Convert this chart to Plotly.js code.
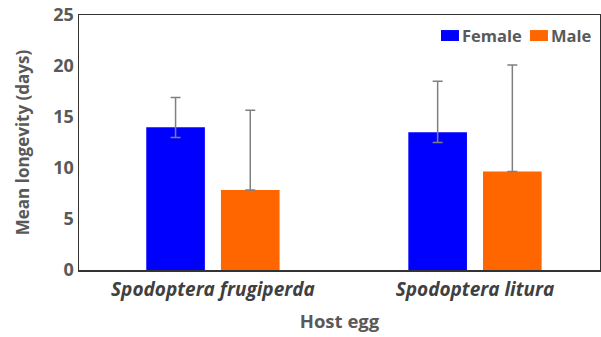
<!DOCTYPE html>
<html><head><meta charset="utf-8">
<script src="https://cdn.plot.ly/plotly-3.0.1.min.js"></script>
<style>html,body{margin:0;padding:0;background:#fff}#chart{width:601px;height:337px}</style>
</head><body><div id="chart"></div>
<script>
const categories = ["Spodoptera frugiperda", "Spodoptera litura"];
const categoryLabels = ["<i>Spodoptera frugiperda</i>", "<i>Spodoptera litura</i>"];
const seriesNames = ["Female", "Male"];
const seriesColors = ["#0000ff", "#ff6600"];
const femaleMean = [14.0, 13.5];
const femaleErrPlus = [2.9, 5.0];
const femaleErrMinus = [1.0, 1.0];
const maleMean = [7.85, 9.65];
const maleErrPlus = [7.8, 10.45];
const maleErrMinus = [0, 0];
const yTicks = [0, 5, 10, 15, 20, 25];

const FAM = '"Open Sans", sans-serif';
const errStyle = {type: 'data', symmetric: false, color: '#808080', thickness: 1.5, width: 5};
const traces = [
  {type: 'bar', name: seriesNames[0], x: categories, y: femaleMean,
   marker: {color: seriesColors[0]},
   error_y: Object.assign({}, errStyle, {array: femaleErrPlus, arrayminus: femaleErrMinus})},
  {type: 'bar', name: seriesNames[1], x: categories, y: maleMean,
   marker: {color: seriesColors[1]},
   error_y: Object.assign({}, errStyle, {array: maleErrPlus, arrayminus: maleErrMinus})}
];

// custom legend (box + label) in paper coordinates
const legendBoxX = [0.6948, 0.8656];
const legendTextX = [0.7313, 0.9021];
const shapes = seriesNames.map((n, i) => ({
  type: 'rect', xref: 'paper', yref: 'paper',
  x0: legendBoxX[i], x1: legendBoxX[i] + 0.0345, y0: 0.898, y1: 0.941,
  fillcolor: seriesColors[i], line: {width: 0}
}));
const annotations = seriesNames.map((n, i) => ({
  xref: 'paper', yref: 'paper', x: legendTextX[i], y: 0.92, xanchor: 'left', yanchor: 'middle',
  text: n, showarrow: false,
  font: {family: FAM, size: 16.5, color: '#595959', weight: 'bold'}
}));

const layout = {
  width: 601, height: 337,
  margin: {l: 79, r: 1, t: 15, b: 67, autoexpand: false},
  paper_bgcolor: '#fff', plot_bgcolor: '#fff',
  barmode: 'group', bargap: 0.43, bargroupgap: 0.215,
  font: {family: FAM, color: '#595959'},
  showlegend: false,
  shapes: shapes,
  annotations: annotations,
  xaxis: {type: 'category', range: [-0.511, 1.477], tickvals: categories, ticktext: categoryLabels,
          showline: true, linecolor: '#333', linewidth: 1.5, mirror: true, ticks: '', showgrid: false,
          automargin: false, ticklabelstandoff: 2,
          tickfont: {family: FAM, size: 19, color: '#404040', weight: 'bold'},
          title: {text: 'Host egg', font: {family: FAM, size: 18.5, color: '#595959', weight: 'bold'}, standoff: 14}},
  yaxis: {range: [0, 25], tickvals: yTicks, showline: true, linecolor: '#333', linewidth: 1.5, mirror: true,
          ticks: '', showgrid: false, zeroline: false, automargin: false,
          tickfont: {family: FAM, size: 18, color: '#595959', weight: 'bold'},
          title: {text: 'Mean longevity (days)', font: {family: FAM, size: 17, color: '#595959', weight: 'bold'}, standoff: 19}}
};
Plotly.newPlot('chart', traces, layout, {displayModeBar: false, staticPlot: true});
</script></body></html>
